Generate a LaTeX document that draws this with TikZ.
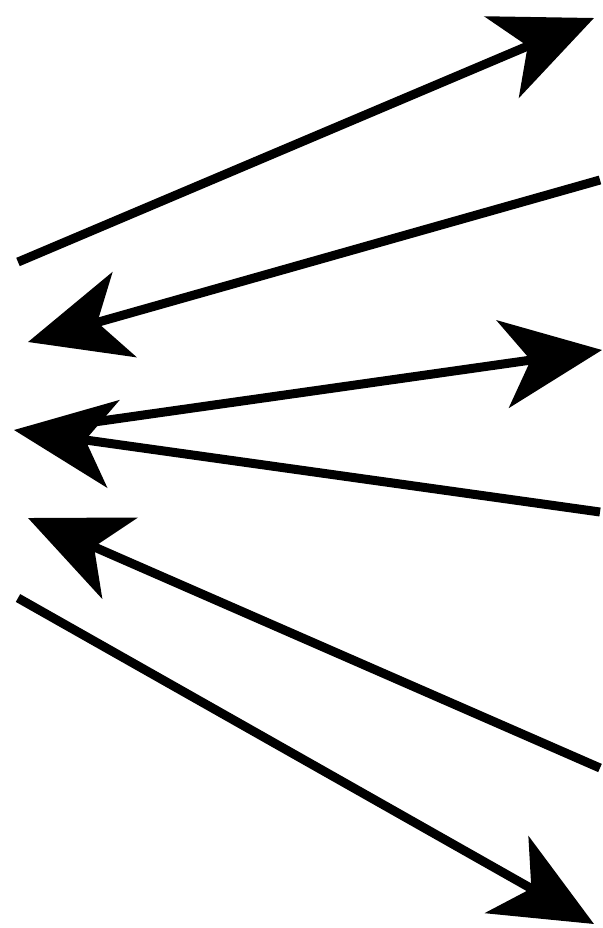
\documentclass[tikz,border=0pt]{standalone}
\usetikzlibrary{arrows.meta}
\begin{document}
\begin{tikzpicture}[x=1pt,y=-1pt,
  arr/.style={line width=9pt,-{Stealth[length=100pt,width=88pt,inset=28pt]}}]
\useasboundingbox (0,0) rectangle (602,928);
\coordinate (t1) at (18,262);   \coordinate (h1) at (594,18);
\coordinate (t2) at (600,180);  \coordinate (h2) at (28,342);
\coordinate (t3) at (80,424);   \coordinate (h3) at (602,350);
\coordinate (t4) at (600,512);  \coordinate (h4) at (14,430);
\coordinate (t5) at (600,768);  \coordinate (h5) at (28,518);
\coordinate (t6) at (18,598);   \coordinate (h6) at (594,924);
\draw[arr] (t1) -- (h1);
\draw[arr] (t2) -- (h2);
\draw[arr] (t3) -- (h3);
\draw[arr] (t4) -- (h4);
\draw[arr] (t5) -- (h5);
\draw[arr] (t6) -- (h6);
\end{tikzpicture}
\end{document}
